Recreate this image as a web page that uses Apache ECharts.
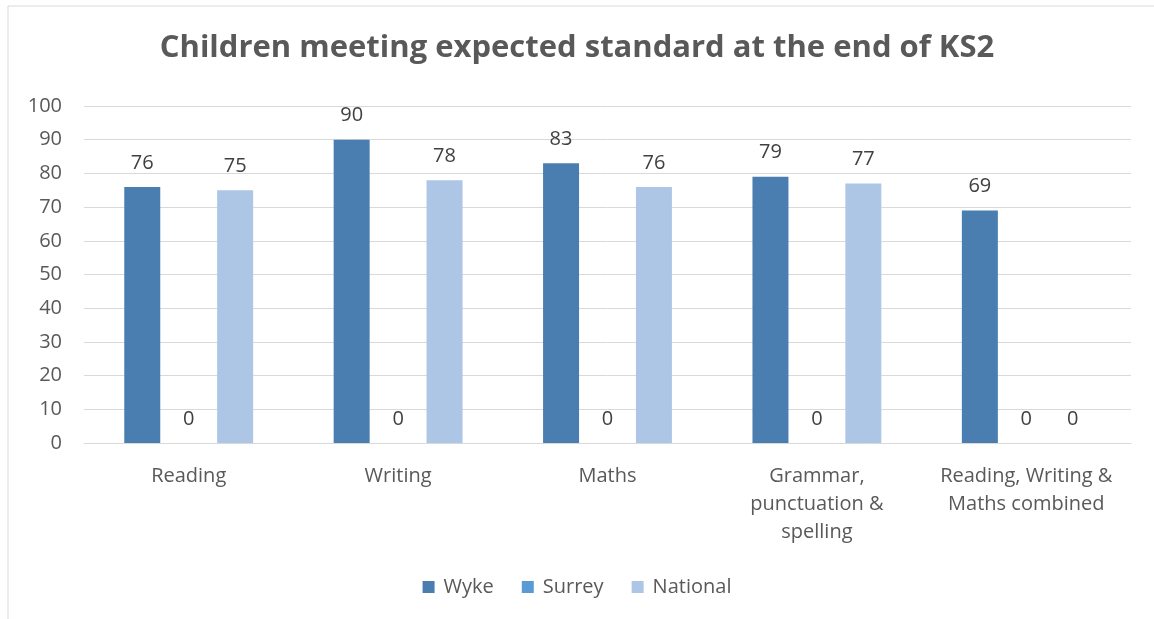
<!DOCTYPE html>
<html>
<head>
<meta charset="utf-8">
<script src="https://cdn.jsdelivr.net/npm/echarts@6/dist/echarts.min.js"></script>
<style>html,body{margin:0;padding:0;background:#fff;}#c{width:1154px;height:619px;}</style>
</head>
<body>
<div id="c"></div>
<script>
const categories = ["Reading", "Writing", "Maths", "Grammar, punctuation & spelling", "Reading, Writing & Maths combined"];
const categoryLabels = ["Reading", "Writing", "Maths", "Grammar,\npunctuation &\nspelling", "Reading, Writing &\nMaths combined"];
const wyke = [76, 90, 83, 79, 69];
const surrey = [0, 0, 0, 0, 0];
const national = [75, 78, 76, 77, 0];
const yTicks = [0, 10, 20, 30, 40, 50, 60, 70, 80, 90, 100];

const FONT = '"Open Sans", sans-serif';
const chart = echarts.init(document.getElementById('c'), null, {renderer: 'canvas'});
const label = {show: true, position: 'top', distance: 14, color: '#404040', fontSize: 20, fontFamily: FONT};
chart.setOption({
  animation: false,
  title: {
    text: 'Children meeting expected standard at the end of KS2',
    left: 'center', top: 28,
    textStyle: {fontFamily: FONT, fontSize: 31, fontWeight: 'bold', color: '#595959'}
  },
  graphic: [{type: 'rect', shape: {x: 8, y: 6, width: 1170, height: 640}, style: {fill: 'none', stroke: '#d9d9d9', lineWidth: 1}, silent: true}],
  legend: {
    bottom: 17, left: 'center', itemWidth: 12, itemHeight: 12, itemGap: 28,
    icon: 'rect',
    textStyle: {fontFamily: FONT, fontSize: 20, color: '#595959', padding: [0, 0, 0, 4]},
    data: ['Wyke', 'Surrey', 'National']
  },
  grid: {left: 84, right: 23, top: 106, bottom: 176, containLabel: false},
  xAxis: {
    type: 'category', data: categories,
    axisLine: {lineStyle: {color: '#d9d9d9'}}, axisTick: {show: false},
    axisLabel: {
      fontFamily: FONT, fontSize: 20, color: '#595959', margin: 19, lineHeight: 28, interval: 0,
      formatter: (v) => categoryLabels[categories.indexOf(v)]
    }
  },
  yAxis: {
    type: 'value', min: yTicks[0], max: yTicks[yTicks.length - 1], interval: 10,
    axisLine: {show: false}, axisTick: {show: false},
    splitLine: {lineStyle: {color: '#d9d9d9'}},
    axisLabel: {fontFamily: FONT, fontSize: 20, color: '#595959', margin: 22}
  },
  series: [
    {name: 'Wyke', type: 'bar', data: wyke, barWidth: 36, barGap: '29%', itemStyle: {color: '#4a7eb0'}, label},
    {name: 'Surrey', type: 'bar', data: surrey, barWidth: 36, barGap: '29%', itemStyle: {color: '#5b9bd5'}, label},
    {name: 'National', type: 'bar', data: national, barWidth: 36, barGap: '29%', itemStyle: {color: '#adc6e6'}, label}
  ]
});
</script>
</body>
</html>
